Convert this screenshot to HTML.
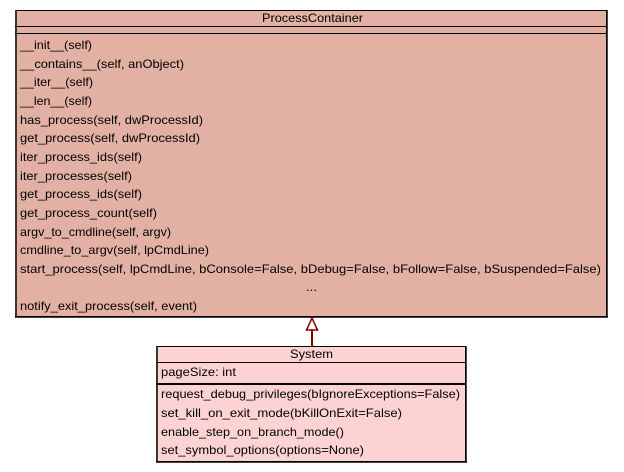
<!DOCTYPE html>
<html>
<head>
<meta charset="utf-8">
<style>
  html, body { margin: 0; padding: 0; background: #ffffff; }
  svg { display: block; }
  text { font-family: "Liberation Sans", Arial, sans-serif; font-size: 12px; fill: #000; }
</style>
</head>
<body>
<svg width="624" height="472" viewBox="0 0 624 472" xmlns="http://www.w3.org/2000/svg">
  <rect x="0" y="0" width="624" height="472" fill="#ffffff"/>

  <!-- ProcessContainer box -->
  <rect x="15" y="10" width="593" height="308" fill="#E2B1A3"/>
  <rect x="15" y="10" width="593" height="1" fill="#000"/>
  <rect x="15" y="10" width="2" height="308" fill="#3a3530"/>
  <rect x="606" y="10" width="1" height="308" fill="#000"/>
  <rect x="607" y="10" width="1" height="308" fill="#4a4540"/>
  <rect x="15" y="316" width="593" height="1" fill="#000"/>
  <rect x="15" y="317" width="593" height="1" fill="#4a4540"/>
  <rect x="15" y="26" width="592" height="1" fill="#000"/>
  <rect x="15" y="33" width="592" height="1" fill="#000"/>

  <text x="262" y="22" textLength="101" lengthAdjust="spacingAndGlyphs">ProcessContainer</text>

  <text x="20" y="49" textLength="72" lengthAdjust="spacingAndGlyphs">__init__(self)</text>
  <text x="20" y="68" textLength="164" lengthAdjust="spacingAndGlyphs">__contains__(self, anObject)</text>
  <text x="20" y="86" textLength="73" lengthAdjust="spacingAndGlyphs">__iter__(self)</text>
  <text x="20" y="105" textLength="72" lengthAdjust="spacingAndGlyphs">__len__(self)</text>
  <text x="20" y="124" textLength="183" lengthAdjust="spacingAndGlyphs">has_process(self, dwProcessId)</text>
  <text x="20" y="142" textLength="180" lengthAdjust="spacingAndGlyphs">get_process(self, dwProcessId)</text>
  <text x="20" y="161" textLength="122" lengthAdjust="spacingAndGlyphs">iter_process_ids(self)</text>
  <text x="20" y="180" textLength="112" lengthAdjust="spacingAndGlyphs">iter_processes(self)</text>
  <text x="20" y="198" textLength="122" lengthAdjust="spacingAndGlyphs">get_process_ids(self)</text>
  <text x="20" y="217" textLength="137" lengthAdjust="spacingAndGlyphs">get_process_count(self)</text>
  <text x="20" y="236" textLength="151" lengthAdjust="spacingAndGlyphs">argv_to_cmdline(self, argv)</text>
  <text x="20" y="254" textLength="189" lengthAdjust="spacingAndGlyphs">cmdline_to_argv(self, lpCmdLine)</text>
  <text x="20" y="273" textLength="581" lengthAdjust="spacingAndGlyphs">start_process(self, lpCmdLine, bConsole=False, bDebug=False, bFollow=False, bSuspended=False)</text>
  <text x="306" y="291" textLength="11" lengthAdjust="spacingAndGlyphs">...</text>
  <text x="20" y="310" textLength="177" lengthAdjust="spacingAndGlyphs">notify_exit_process(self, event)</text>

  <!-- Generalization arrow -->
  <rect x="311" y="329" width="2" height="17" fill="#800000"/>
  <polygon points="312,318 306.5,330 317.5,330" fill="#ffffff" stroke="#800000" stroke-width="1.5"/>

  <!-- System box -->
  <rect x="156" y="346" width="311" height="117" fill="#FCD2D3"/>
  <rect x="156" y="346" width="311" height="1" fill="#000"/>
  <rect x="156" y="346" width="2" height="117" fill="#3a3530"/>
  <rect x="465" y="346" width="1" height="117" fill="#000"/>
  <rect x="466" y="346" width="1" height="117" fill="#4a4540"/>
  <rect x="156" y="461" width="311" height="1" fill="#000"/>
  <rect x="156" y="462" width="311" height="1" fill="#4a4540"/>
  <rect x="156" y="362" width="310" height="1" fill="#000"/>
  <rect x="156" y="383" width="310" height="2" fill="#000"/>

  <text x="290" y="358" textLength="43" lengthAdjust="spacingAndGlyphs">System</text>
  <text x="161" y="376" textLength="75" lengthAdjust="spacingAndGlyphs">pageSize: int</text>
  <text x="161" y="398" textLength="299" lengthAdjust="spacingAndGlyphs">request_debug_privileges(bIgnoreExceptions=False)</text>
  <text x="161" y="417" textLength="241" lengthAdjust="spacingAndGlyphs">set_kill_on_exit_mode(bKillOnExit=False)</text>
  <text x="161" y="436" textLength="183" lengthAdjust="spacingAndGlyphs">enable_step_on_branch_mode()</text>
  <text x="161" y="454" textLength="203" lengthAdjust="spacingAndGlyphs">set_symbol_options(options=None)</text>
</svg>
</body>
</html>
